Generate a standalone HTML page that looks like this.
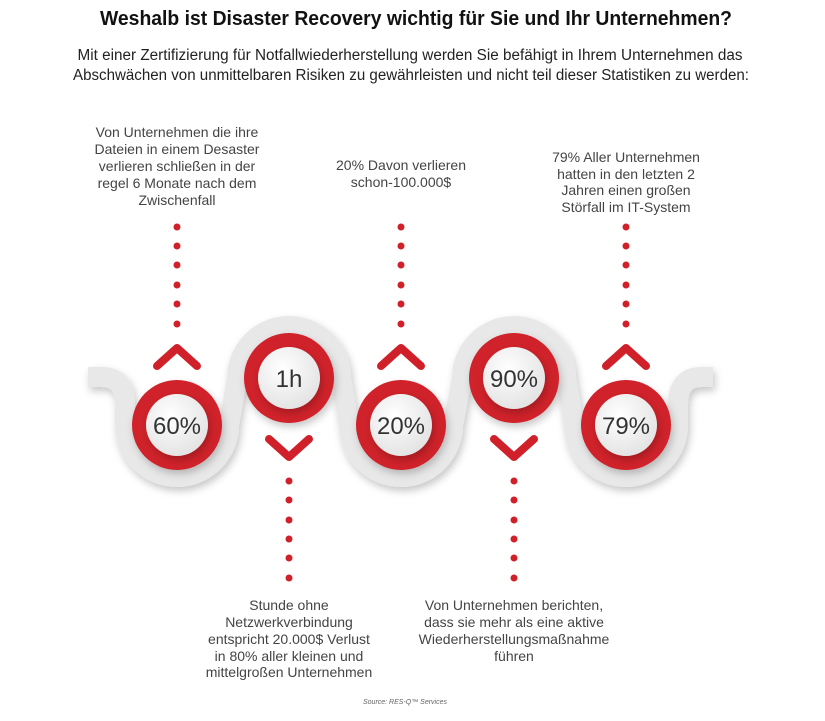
<!DOCTYPE html>
<html><head><meta charset="utf-8"><style>
html,body{margin:0;padding:0;background:#fff;}
svg{display:block}
.t{font-family:"Liberation Sans",sans-serif;font-size:14px;fill:#444;text-anchor:middle}
.n{font-family:"Liberation Sans",sans-serif;font-size:24px;fill:#333;text-anchor:middle}
</style></head><body>
<svg width="825" height="721" viewBox="0 0 825 721" xmlns="http://www.w3.org/2000/svg">
<defs>
<filter id="sh" x="-20%" y="-20%" width="140%" height="140%"><feDropShadow dx="2" dy="4" stdDeviation="4" flood-color="#000" flood-opacity="0.22"/></filter>
<radialGradient id="wg" cx="40%" cy="35%" r="70%"><stop offset="0" stop-color="#ffffff"/><stop offset="1" stop-color="#e2e2e2"/></radialGradient>
</defs>
<text x="416" y="25" text-anchor="middle" font-family="'Liberation Sans Narrow','Liberation Sans',sans-serif" font-weight="bold" font-size="20" fill="#111" textLength="632" lengthAdjust="spacingAndGlyphs">Weshalb ist Disaster Recovery wichtig für Sie und Ihr Unternehmen?</text>
<text x="410" y="60" text-anchor="middle" font-family="'Liberation Sans Narrow','Liberation Sans',sans-serif" font-size="15.5" fill="#222" textLength="665" lengthAdjust="spacingAndGlyphs">Mit einer Zertifizierung für Notfallwiederherstellung werden Sie befähigt in Ihrem Unternehmen das</text>
<text x="411" y="80" text-anchor="middle" font-family="'Liberation Sans Narrow','Liberation Sans',sans-serif" font-size="15.5" fill="#222" textLength="676" lengthAdjust="spacingAndGlyphs">Abschwächen von unmittelbaren Risiken zu gewährleisten und nicht teil dieser Statistiken zu werden:</text>

<g class="t">
<text x="177" y="137">Von Unternehmen die ihre</text>
<text x="177" y="154">Dateien in einem Desaster</text>
<text x="177" y="171">verlieren schließen in der</text>
<text x="177" y="188">regel 6 Monate nach dem</text>
<text x="177" y="205">Zwischenfall</text>
<text x="401" y="170">20% Davon verlieren</text>
<text x="401" y="187">schon-100.000$</text>
<text x="626" y="162">79% Aller Unternehmen</text>
<text x="626" y="179">hatten in den letzten 2</text>
<text x="626" y="195">Jahren einen großen</text>
<text x="626" y="212">Störfall im IT-System</text>
<text x="289" y="610">Stunde ohne</text>
<text x="289" y="627">Netzwerkverbindung</text>
<text x="289" y="644">entspricht 20.000$ Verlust</text>
<text x="289" y="661">in 80% aller kleinen und</text>
<text x="289" y="677">mittelgroßen Unternehmen</text>
<text x="514" y="610">Von Unternehmen berichten,</text>
<text x="514" y="627">dass sie mehr als eine aktive</text>
<text x="514" y="644">Wiederherstellungsmaßnahme</text>
<text x="514" y="661">führen</text>
</g>
<text x="405" y="704" text-anchor="middle" font-family="'Liberation Sans',sans-serif" font-style="italic" font-size="7" fill="#666">Source: RES-Q™ Services</text>

<g fill="#d0202a">
<circle cx="177" cy="227" r="3.5"/><circle cx="177" cy="246" r="3.5"/><circle cx="177" cy="265" r="3.5"/><circle cx="177" cy="285" r="3.5"/><circle cx="177" cy="304" r="3.5"/><circle cx="177" cy="324" r="3.5"/>
<circle cx="401" cy="227" r="3.5"/><circle cx="401" cy="246" r="3.5"/><circle cx="401" cy="265" r="3.5"/><circle cx="401" cy="285" r="3.5"/><circle cx="401" cy="304" r="3.5"/><circle cx="401" cy="324" r="3.5"/>
<circle cx="626" cy="227" r="3.5"/><circle cx="626" cy="246" r="3.5"/><circle cx="626" cy="265" r="3.5"/><circle cx="626" cy="285" r="3.5"/><circle cx="626" cy="304" r="3.5"/><circle cx="626" cy="324" r="3.5"/>
<circle cx="289" cy="481" r="3.5"/><circle cx="289" cy="500" r="3.5"/><circle cx="289" cy="520" r="3.5"/><circle cx="289" cy="539" r="3.5"/><circle cx="289" cy="558" r="3.5"/><circle cx="289" cy="578" r="3.5"/>
<circle cx="514" cy="481" r="3.5"/><circle cx="514" cy="500" r="3.5"/><circle cx="514" cy="520" r="3.5"/><circle cx="514" cy="539" r="3.5"/><circle cx="514" cy="558" r="3.5"/><circle cx="514" cy="578" r="3.5"/>
</g>

<g fill="none" stroke="#d0202a" stroke-width="8" stroke-linecap="round" stroke-linejoin="round">
<polyline points="157,366 177,348 197,366"/>
<polyline points="381,366 401,348 421,366"/>
<polyline points="606,366 626,348 646,366"/>
<polyline points="269,439 289,457 309,439"/>
<polyline points="494,439 514,457 534,439"/>
</g>

<path filter="url(#sh)" fill="none" stroke="#e8e8e8" stroke-width="20" d="M88 377 L102 377 Q125 377 125 405 L125 425 A52 52 0 0 0 229 425 L237 378 A52 52 0 0 1 341 378 L349 425 A52 52 0 0 0 453 425 L462 378 A52 52 0 0 1 566 378 L574 425 A52 52 0 0 0 678 425 L678 405 Q678 377 701 377 L713 377"/>

<g>
<circle cx="177" cy="425" r="45" fill="#d0202a" filter="url(#sh)"/>
<circle cx="289" cy="378" r="45" fill="#d0202a" filter="url(#sh)"/>
<circle cx="401" cy="425" r="45" fill="#d0202a" filter="url(#sh)"/>
<circle cx="514" cy="378" r="45" fill="#d0202a" filter="url(#sh)"/>
<circle cx="626" cy="425" r="45" fill="#d0202a" filter="url(#sh)"/>
<circle cx="177" cy="425" r="31" fill="url(#wg)" filter="url(#sh)"/>
<circle cx="289" cy="378" r="31" fill="url(#wg)" filter="url(#sh)"/>
<circle cx="401" cy="425" r="31" fill="url(#wg)" filter="url(#sh)"/>
<circle cx="514" cy="378" r="31" fill="url(#wg)" filter="url(#sh)"/>
<circle cx="626" cy="425" r="31" fill="url(#wg)" filter="url(#sh)"/>
</g>
<g class="n">
<text x="177" y="434">60%</text>
<text x="289" y="387">1h</text>
<text x="401" y="434">20%</text>
<text x="514" y="387">90%</text>
<text x="626" y="434">79%</text>
</g>
</svg>
</body></html>
